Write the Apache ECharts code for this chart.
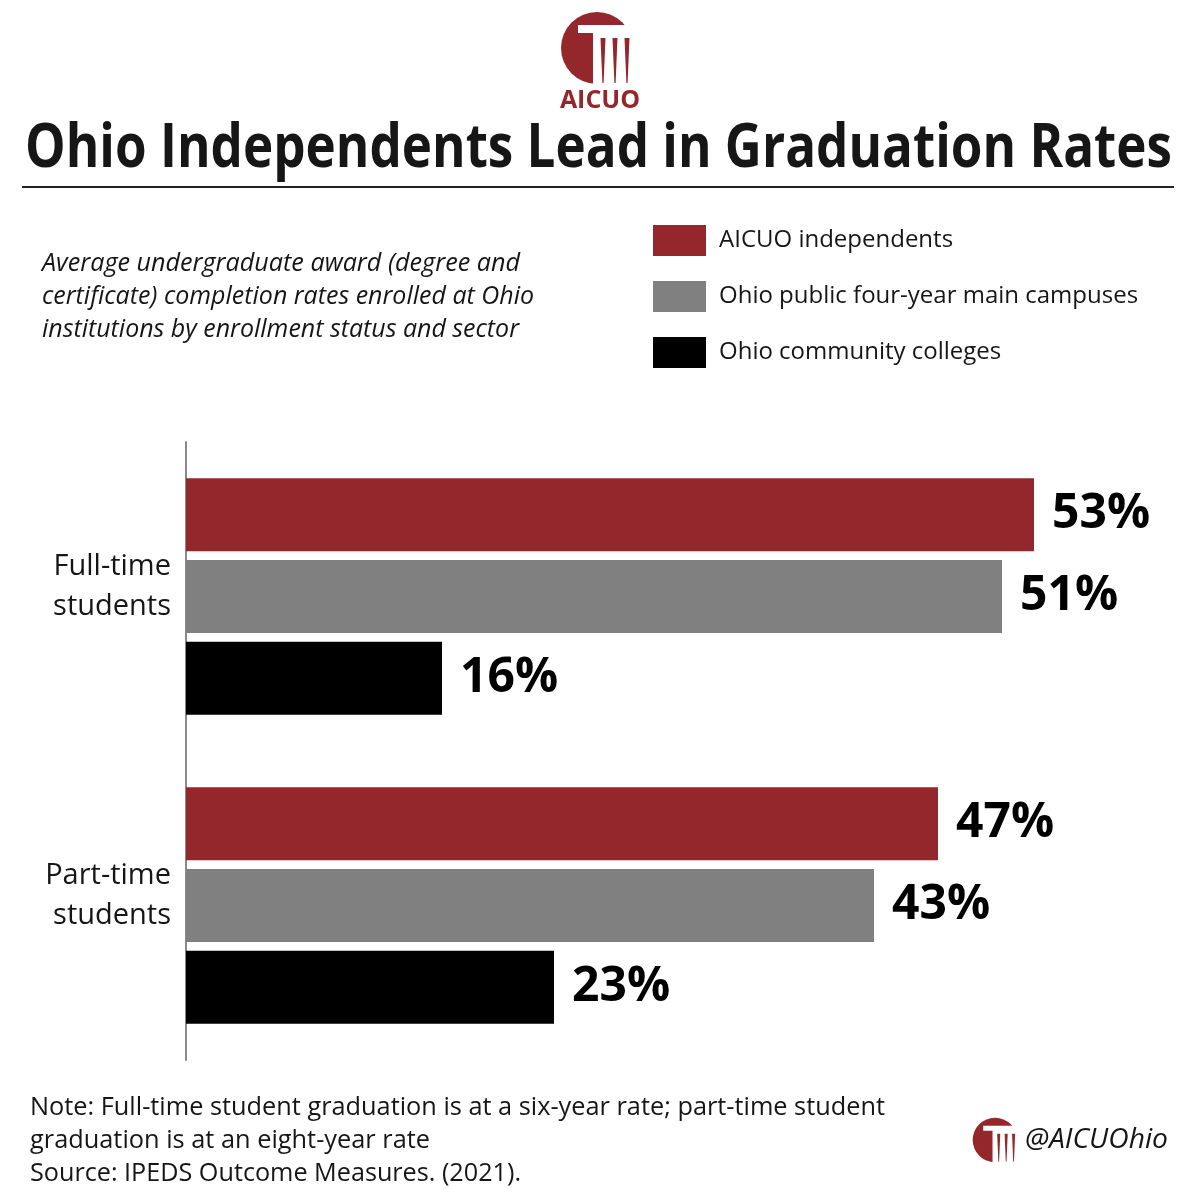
<!DOCTYPE html>
<html>
<head>
<meta charset="utf-8">
<script src="https://cdn.jsdelivr.net/npm/echarts@6/dist/echarts.min.js"></script>
<style>html,body{margin:0;padding:0;background:#fff;}#c{width:1200px;height:1200px;}</style>
</head>
<body>
<div id="c"></div>
<script>
// ---- data ----
const categories = ['Full-time\nstudents', 'Part-time\nstudents'];
const seriesNames = ['AICUO independents', 'Ohio public four-year main campuses', 'Ohio community colleges'];
const aicuoValues = [53, 47];
const publicValues = [51, 43];
const communityValues = [16, 23];
const titleText = 'Ohio Independents Lead in Graduation Rates';
const subtitleLines = ['Average undergraduate award (degree and', 'certificate) completion rates enrolled at Ohio', 'institutions by enrollment status and sector'];
const noteLines = ['Note: Full-time student graduation is at a six-year rate; part-time student', 'graduation is at an eight-year rate', 'Source: IPEDS Outcome Measures. (2021).'];
const handleText = '@AICUOhio';
const logoText = 'AICUO';

const RED = '#93272C', GREY = '#808080', BLACK = '#000000', TXT = '#161616';
const FF = '"Open Sans", "Noto Sans", sans-serif';

function measure(str, font) {
  const ctx = document.createElement('canvas').getContext('2d');
  ctx.font = font;
  return ctx.measureText(str).width;
}
function fitText(str, x, y, size, weight, style, target, color) {
  const font = style + ' ' + weight + ' ' + size + 'px ' + FF;
  const w = measure(str, font);
  return {
    type: 'text', x: x, y: y, scaleX: target / w, originX: 0, originY: 0, z: 10,
    style: { text: str, fontSize: size, fontWeight: weight, fontStyle: style, fontFamily: FF,
             fill: color, align: 'left', verticalAlign: 'middle' }
  };
}
function logo(cx, cy, s) {
  const children = [
    { type: 'circle', shape: { cx: 0, cy: 0, r: 36 }, style: { fill: RED } },
    { type: 'polygon', shape: { points: [[-19, -23], [42, -23], [42, 46], [-4, 46], [-4, -15], [-19, -15]] }, style: { fill: '#fff' } }
  ];
  [6, 18, 30].forEach(function (px) {
    children.push({ type: 'polygon', shape: { points: [[px - 2.5, -10], [px + 2.5, -10], [px + 0.6, 35], [px - 0.6, 35]] }, style: { fill: RED } });
  });
  return { type: 'group', x: cx, y: cy, scaleX: s, scaleY: s, children: children };
}

const graphics = [
  logo(597, 48, 1),
  { type: 'text', x: 600, y: 101, style: { text: logoText, fontSize: 25, fontWeight: 'bold', fontFamily: FF, fill: RED, align: 'center', verticalAlign: 'middle' } },
  fitText(titleText, 25, 150, 60, 'bold', 'normal', 1147, TXT),
  { type: 'rect', shape: { x: 22, y: 186, width: 1152, height: 2 }, style: { fill: '#222' } },
  fitText(subtitleLines[0], 42, 264, 25, 'normal', 'italic', 478, TXT),
  fitText(subtitleLines[1], 42, 297, 25, 'normal', 'italic', 492, TXT),
  fitText(subtitleLines[2], 42, 330, 25, 'normal', 'italic', 477, TXT),
  fitText(noteLines[0], 30, 1108, 25, 'normal', 'normal', 855, TXT),
  fitText(noteLines[1], 30, 1141, 25, 'normal', 'normal', 400, TXT),
  fitText(noteLines[2], 30, 1174, 25, 'normal', 'normal', 491, TXT),
  logo(995, 1140, 0.62),
  fitText(handleText, 1025, 1140, 28, 'normal', 'italic', 143, TXT)
];

const chart = echarts.init(document.getElementById('c'));
const labelCfg = {
  show: true, position: 'right', distance: 18, formatter: '{c}%',
  fontSize: 48, fontWeight: 'bold', fontFamily: FF, color: '#000'
};
function mk(name, data, color) {
  return { name: name, type: 'bar', data: data, barWidth: 73, barGap: '12%',
           itemStyle: { color: color }, label: labelCfg, emphasis: { disabled: true } };
}
chart.setOption({
  animation: false,
  backgroundColor: '#fff',
  grid: { left: 186, top: 442, width: 960, height: 618, containLabel: false },
  legend: {
    orient: 'vertical', left: 653, top: 225, padding: 0, itemWidth: 53, itemHeight: 31, itemGap: 25, icon: 'rect',
    selectedMode: false,
    textStyle: { fontSize: 24, fontFamily: FF, color: TXT, padding: [0, 0, 0, 8] },
    data: seriesNames
  },
  xAxis: { type: 'value', min: 0, max: 60, show: false },
  yAxis: {
    type: 'category', data: categories, inverse: true,
    axisLine: { show: true, lineStyle: { color: '#8a8a8a', width: 2 } },
    axisTick: { show: false },
    axisLabel: {
      align: 'right', margin: 15,
      formatter: function (v) { return v.split('\n').map(function (s) { return '{a|' + s + '}'; }).join('\n') + '\n{s|}'; },
      rich: {
        a: { fontSize: 29, fontFamily: FF, color: TXT, align: 'right', lineHeight: 40 },
        s: { fontSize: 10, lineHeight: 20 }
      }
    }
  },
  series: [
    mk(seriesNames[0], aicuoValues, RED),
    mk(seriesNames[1], publicValues, GREY),
    mk(seriesNames[2], communityValues, BLACK)
  ],
  graphic: graphics
});
</script>
</body>
</html>
